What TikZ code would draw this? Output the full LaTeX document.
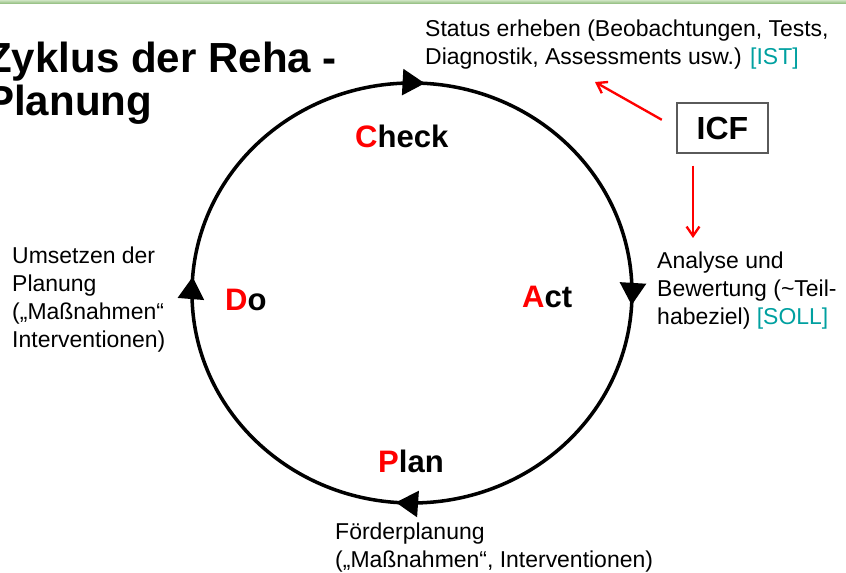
\documentclass[tikz,border=0pt]{standalone}
\usepackage{fontspec}
\setmainfont{Liberation Sans}
\usepackage{tikz}
\usetikzlibrary{arrows.meta,decorations.markings}
\definecolor{sollteal}{RGB}{0,160,160}
\definecolor{barlight}{RGB}{206,228,194}
\definecolor{bardark}{RGB}{138,184,118}
\definecolor{icfgrey}{RGB}{90,90,90}

\begin{document}
\begin{tikzpicture}[
    note/.style={anchor=base west, inner sep=0pt, align=left, font=\fontsize{19.6}{23.9}\selectfont},
    phase/.style={anchor=base west, inner sep=0pt, font=\fontsize{26.5}{30}\selectfont\bfseries},
    icfarrow/.style={red, line width=2pt, -{Straight Barb[length=8pt,width=11pt]}}]
    \useasboundingbox (-12.36,-8.4) rectangle (13.02,8.79);
    \shade[top color=barlight, bottom color=bardark] (-12.36,8.67) rectangle (13.02,8.79);
    % title (base = last line)
    \node[anchor=base west, inner sep=0pt, align=left, font=\fontsize{35.9}{36.7}\selectfont\bfseries] (title) at (-12.78,5.31) {Zyklus der Reha -\\Planung};
    % the cycle
    \draw[line width=3pt, decoration={markings,
        mark=at position 0.2405 with {\arrowreversed{Triangle[length=19pt,width=22pt]}},
        mark=at position 0.488 with {\arrowreversed{Triangle[length=19pt,width=22pt]}},
        mark=at position 0.738 with {\arrowreversed{Triangle[length=19pt,width=22pt]}},
        mark=at position 0.991 with {\arrowreversed{Triangle[length=19pt,width=22pt]}}},
        postaction={decorate}] (0,0) ellipse (6.6 and 6.3);
    \node[phase] (check) at (-1.71,4.35) {\textcolor{red}{C}heck};
    \node[phase] (act) at (3.3,-0.45) {\textcolor{red}{A}ct};
    \node[phase] (plan) at (-1.02,-5.4) {\textcolor{red}{P}lan};
    \node[phase] (do) at (-5.61,-0.54) {\textcolor{red}{D}o};
    % notes
    \node[note] (ist) at (0.39,6.84) {Status erheben (Beobachtungen, Tests,\\Diagnostik, Assessments usw.) \textcolor{sollteal}{[IST]}};
    \node[note] (soll) at (7.35,-0.96) {Analyse und\\Bewertung (\textasciitilde Teil-\\habeziel) \textcolor{sollteal}{[SOLL]}};
    \node[note] (foerder) at (-2.31,-8.25) {Förderplanung\\(„Maßnahmen“, Interventionen)};
    \node[note] (umsetzen) at (-12.0,-1.65) {Umsetzen der\\Planung\\(„Maßnahmen“\\Interventionen)};
    % ICF
    \node[draw=icfgrey, line width=1.2pt, minimum width=2.73cm, minimum height=1.5cm, font=\fontsize{27.3}{30}\selectfont\bfseries] (icf) at (9.315,4.95) {ICF};
    \coordinate (istend) at (5.49,6.33);
    \coordinate (sollend) at (8.43,1.65);
    \draw[icfarrow, shorten <=0.5cm] (icf.west) -- (istend);
    \draw[icfarrow, shorten <=0.36cm] (icf.south -| sollend) -- (sollend);
\end{tikzpicture}
\end{document}
